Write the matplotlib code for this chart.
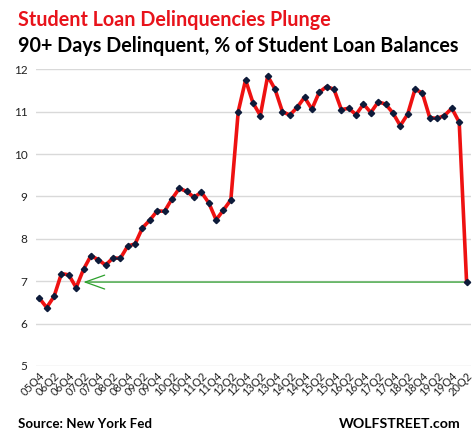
import numpy as np
import matplotlib.pyplot as plt

plt.rcParams['font.family'] = ['Lato', 'DejaVu Sans']

# quarterly, 05Q4 .. 20Q2
years = list(range(2005, 2021))
quarters = []
for y in years:
    for q in range(1, 5):
        if (y == 2005 and q < 4) or (y == 2020 and q > 2):
            continue
        quarters.append('%02dQ%d' % (y % 100, q))

delinq = [6.60, 6.38, 6.64, 7.18, 7.15, 6.85, 7.28, 7.60, 7.51, 7.38,
          7.55, 7.54, 7.83, 7.88, 8.26, 8.44, 8.66, 8.65, 8.94, 9.19,
          9.12, 8.98, 9.10, 8.85, 8.45, 8.68, 8.92, 11.00, 11.75, 11.21,
          10.91, 11.84, 11.53, 11.00, 10.92, 11.10, 11.34, 11.06, 11.46, 11.59,
          11.53, 11.05, 11.08, 10.93, 11.18, 10.98, 11.23, 11.18, 10.97, 10.67,
          10.94, 11.53, 11.44, 10.86, 10.84, 10.91, 11.08, 10.75, 6.98]

x = np.arange(len(quarters))

fig = plt.figure(figsize=(4.75, 4.43), dpi=100)
ax = fig.add_axes([36/475, 1 - 366/443, (471 - 36)/475, (366 - 69.3)/443])

ax.set_ylim(5, 12)
ax.set_xlim(-0.45, 58.6)
ax.set_yticks(range(5, 13))
ax.grid(axis='y', color='#d9d9d9', linewidth=1)
ax.set_axisbelow(True)
for s in ax.spines.values():
    s.set_visible(False)
ax.tick_params(length=0, labelsize=8.5, colors='#222222', pad=6)

# green arrow back to the last comparable level
ax.annotate('', xy=(5.6, delinq[-1]), xytext=(x[-1], delinq[-1]),
            arrowprops=dict(arrowstyle='->,head_length=1.4,head_width=0.5',
                            color='#2ca02c', lw=0.9), zorder=2)

ax.plot(x, delinq, color='#ee1111', lw=2.6, zorder=3)
ax.plot(x, delinq, ls='none', marker='D', ms=3.2, color='#0d1b3a', zorder=4)

ax.set_xticks(x[::2])
ax.set_xticklabels(quarters[::2], rotation=45, ha='right', va='top',
                   rotation_mode='anchor', fontsize=8)
ax.tick_params(axis='x', pad=3)

fig.text(18/475, 1 - 20/443, 'Student Loan Delinquencies Plunge', color='#e8131b',
         fontsize=14.2, fontweight='bold', va='center')
fig.text(18/475, 1 - 46/443, '90+ Days Delinquent, % of Student Loan Balances',
         color='black', fontsize=14.2, fontweight='bold', va='center')
fig.text(18/475, 1 - 424/443, 'Source: New York Fed', fontsize=9.6,
         fontweight='bold', va='center')
fig.text(461/475, 1 - 424/443, 'WOLFSTREET.com', fontsize=10.2,
         fontweight='bold', va='center', ha='right')

fig.savefig('out.png', dpi=100)
